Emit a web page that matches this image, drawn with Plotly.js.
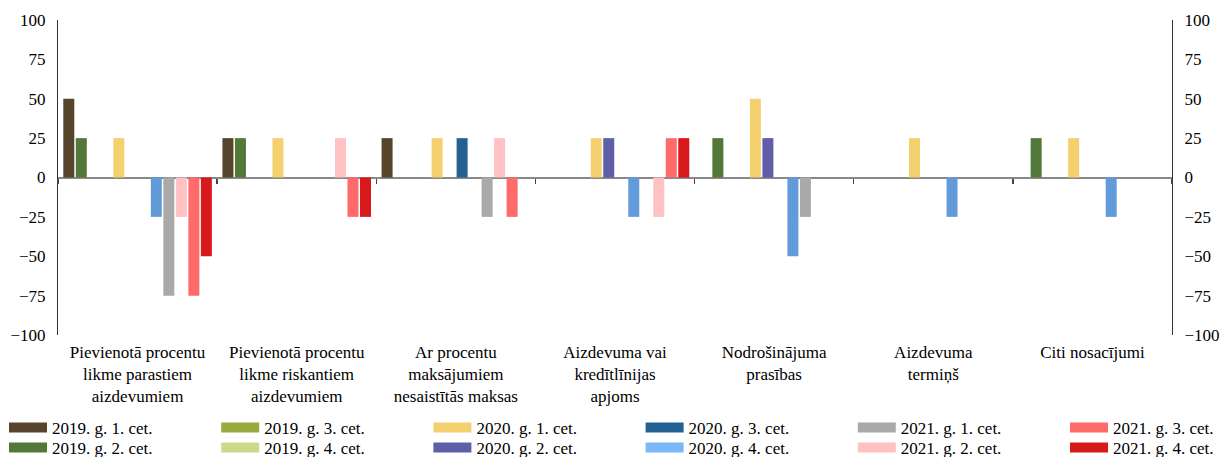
<!DOCTYPE html>
<html>
<head>
<meta charset="utf-8">
<script src="https://cdn.plot.ly/plotly-3.0.1.min.js"></script>
<style>html,body{margin:0;padding:0;background:#fff}#chart{width:1230px;height:457px}</style>
</head>
<body>
<div id="chart"></div>
<script>
const categories = [
  "Pievienotā procentu<br>likme parastiem<br>aizdevumiem",
  "Pievienotā procentu<br>likme riskantiem<br>aizdevumiem",
  "Ar procentu<br>maksājumiem<br>nesaistītās maksas",
  "Aizdevuma vai<br>kredītlīnijas<br>apjoms",
  "Nodrošinājuma<br>prasības",
  "Aizdevuma<br>termiņš",
  "Citi nosacījumi"
];
const seriesNames = [
  "2019. g. 1. cet.", "2019. g. 2. cet.", "2019. g. 3. cet.", "2019. g. 4. cet.",
  "2020. g. 1. cet.", "2020. g. 2. cet.", "2020. g. 3. cet.", "2020. g. 4. cet.",
  "2021. g. 1. cet.", "2021. g. 2. cet.", "2021. g. 3. cet.", "2021. g. 4. cet."
];
const v2019q1 = [50, 25, 25, 0, 0, 0, 0];
const v2019q2 = [25, 25, 0, 0, 25, 0, 25];
const v2019q3 = [0, 0, 0, 0, 0, 0, 0];
const v2019q4 = [0, 0, 0, 0, 0, 0, 0];
const v2020q1 = [25, 25, 25, 25, 50, 25, 25];
const v2020q2 = [0, 0, 0, 25, 25, 0, 0];
const v2020q3 = [0, 0, 25, 0, 0, 0, 0];
const v2020q4 = [-25, 0, 0, -25, -50, -25, -25];
const v2021q1 = [-75, 0, -25, 0, -25, 0, 0];
const v2021q2 = [-25, 25, 25, -25, 0, 0, 0];
const v2021q3 = [-75, -25, -25, 25, 0, 0, 0];
const v2021q4 = [-50, -25, 0, 25, 0, 0, 0];
const seriesValues = [v2019q1, v2019q2, v2019q3, v2019q4, v2020q1, v2020q2, v2020q3, v2020q4, v2021q1, v2021q2, v2021q3, v2021q4];
const barColors = ["#56452c", "#53793a", "#9aaa3f", "#cdd88a", "#f4d06f", "#5f5fa8", "#236192", "#629bd9", "#a9a9a9", "#ffc1c1", "#ff6b6b", "#d7191c"];
const legendColors = ["#56452c", "#53793a", "#9aaa3f", "#cdd88a", "#f4d06f", "#5f5fa8", "#236192", "#7ab8f8", "#a9a9a9", "#ffc1c1", "#ff6b6b", "#d7191c"];
const yTicks = [-100, -75, -50, -25, 0, 25, 50, 75, 100];

const W = 1230, H = 457, ML = 58, MR = 58, MT = 20, MB = 122;
const PW = W - ML - MR, PH = H - MT - MB;
const font = {family: "Liberation Serif", size: 17, color: "#000"};

const traces = [];
seriesNames.forEach((name, i) => {
  traces.push({
    type: "bar", x: categories, y: seriesValues[i], name: name,
    marker: {color: barColors[i]}, showlegend: false, hoverinfo: "name+y"
  });
});
// legend entries: one small legend per entry, laid out column-major (2 rows x 6 columns)
const layoutLegends = {};
seriesNames.forEach((name, i) => {
  const col = Math.floor(i / 2), row = i % 2;
  const id = i === 0 ? "legend" : "legend" + (i + 1);
  traces.push({
    type: "scatter", mode: "lines", x: [null], y: [null], name: name, legend: id,
    line: {color: legendColors[i], width: 12}, showlegend: true, hoverinfo: "skip"
  });
  const leftPx = 4 + col * 212.2;
  const midPx = 428 + row * 20;
  layoutLegends[id] = {
    x: (leftPx - ML) / PW, xanchor: "left",
    y: (MT + PH - midPx) / PH, yanchor: "middle",
    font: font, itemwidth: 38, bgcolor: "rgba(0,0,0,0)", borderwidth: 0
  };
});
// invisible trace on the second x axis so that its boundary ticks are drawn
traces.push({type: "bar", x: categories, y: categories.map(() => null), xaxis: "x2", showlegend: false, hoverinfo: "skip"});
// invisible trace on right y axis
traces.push({type: "scatter", mode: "lines", x: [categories[0]], y: [null], yaxis: "y2", showlegend: false, hoverinfo: "skip"});

const layout = Object.assign({
  width: W, height: H,
  margin: {l: ML, r: MR, t: MT, b: MB, autoexpand: false},
  paper_bgcolor: "#fff", plot_bgcolor: "#fff",
  font: font,
  barmode: "group", bargap: 0.057, bargroupgap: 0.12,
  showlegend: true,
  xaxis: {type: "category", showgrid: false, zeroline: false, showline: false, ticks: "",
          tickfont: font, ticklabelstandoff: 5, automargin: false, fixedrange: true},
  xaxis2: {type: "category", overlaying: "x", anchor: "free", position: 0.5, matches: "x",
           showgrid: false, zeroline: false, showline: false, ticks: "outside", tickson: "boundaries",
           ticklen: 5, tickwidth: 1.5, tickcolor: "#444", showticklabels: false, fixedrange: true},
  yaxis: {range: [-100, 100], tickvals: yTicks, showgrid: false, zeroline: true, zerolinecolor: "#888",
          zerolinewidth: 2, showline: true, linecolor: "#333", linewidth: 1, ticks: "",
          tickfont: font, ticklabelstandoff: 8, automargin: false, fixedrange: true},
  yaxis2: {range: [-100, 100], tickvals: yTicks, overlaying: "y", side: "right", anchor: "x",
           showgrid: false, zeroline: false, showline: true, linecolor: "#333", linewidth: 1, ticks: "",
           tickfont: font, ticklabelstandoff: 8, automargin: false, fixedrange: true}
}, layoutLegends);
Plotly.newPlot("chart", traces, layout, {displayModeBar: false, staticPlot: true});
</script>
</body>
</html>
